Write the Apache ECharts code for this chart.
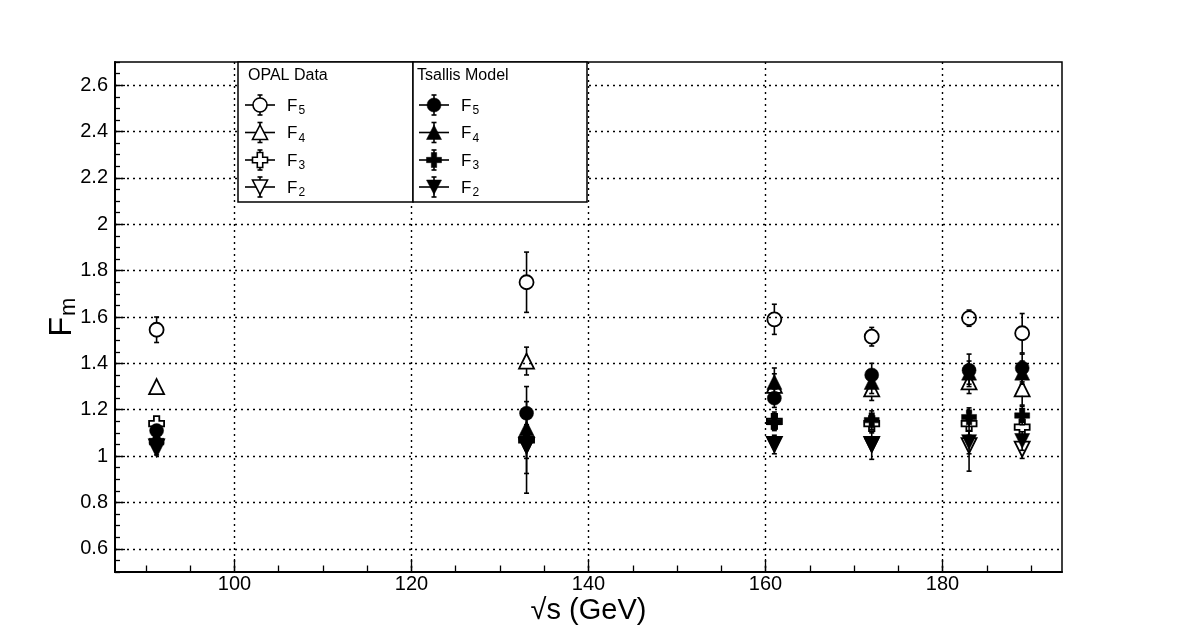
<!DOCTYPE html>
<html><head><meta charset="utf-8">
<script src="https://cdn.jsdelivr.net/npm/echarts@6/dist/echarts.min.js"></script>
<style>html,body{margin:0;padding:0;background:#fff}#c{width:1182px;height:636px}</style>
</head><body><div id="c"></div>
<script>
// ---- data ----
const energies = [91.2, 133, 161, 172, 183, 189];

const opalF5 = [1.545, 1.75, 1.59, 1.515, 1.595, 1.53];
const opalF5Err = [0.055, 0.13, 0.065, 0.04, 0.035, 0.085];
const opalF4 = [1.30, 1.41, 1.305, 1.29, 1.32, 1.29];
const opalF4Err = [0.015, 0.06, 0.05, 0.05, 0.05, 0.07];
const opalF3 = [1.14, 1.07, 1.15, 1.14, 1.14, 1.125];
const opalF3Err = [0.03, 0.23, 0.04, 0.04, 0.05, 0.06];
const opalF2 = [1.04, 1.045, 1.05, 1.05, 1.045, 1.03];
const opalF2Err = [0.01, 0.12, 0.03, 0.03, 0.11, 0.04];

const tsF5 = [1.11, 1.185, 1.25, 1.35, 1.37, 1.38];
const tsF5Err = [0.02, 0.05, 0.04, 0.05, 0.07, 0.06];
const tsF4 = [1.08, 1.12, 1.32, 1.32, 1.36, 1.36];
const tsF4Err = [0.02, 0.05, 0.06, 0.05, 0.05, 0.05];
const tsF3 = [1.065, 1.075, 1.147, 1.155, 1.168, 1.175];
const tsF3Err = [0.02, 0.05, 0.03, 0.04, 0.04, 0.04];
const tsF2 = [1.025, 1.04, 1.05, 1.046, 1.06, 1.065];
const tsF2Err = [0.02, 0.05, 0.04, 0.06, 0.05, 0.04];

const xTicks = [100, 120, 140, 160, 180];
const xMinorTicks = [90, 95, 100, 105, 110, 115, 120, 125, 130, 135, 140, 145, 150, 155, 160, 165, 170, 175, 180, 185, 190];
const yTicks = [0.6, 0.8, 1, 1.2, 1.4, 1.6, 1.8, 2, 2.2, 2.4, 2.6];
const yMinorTicks = [0.5, 0.55, 0.6, 0.65, 0.7, 0.75, 0.8, 0.85, 0.9, 0.95, 1, 1.05, 1.1, 1.15, 1.2, 1.25, 1.3, 1.35, 1.4, 1.45, 1.5, 1.55, 1.6, 1.65, 1.7, 1.75, 1.8, 1.85, 1.9, 1.95, 2, 2.05, 2.1, 2.15, 2.2, 2.25, 2.3, 2.35, 2.4, 2.45, 2.5, 2.55, 2.6, 2.65, 2.7];

const legendHeaders = ['OPAL Data', 'Tsallis Model'];
const legendLabels = ['5', '4', '3', '2'];

// ---- styling ----
const FONT = 'Liberation Sans, Arial, Helvetica, sans-serif';
const SYM = {
  circle: 'circle',
  tri: 'triangle',
  cross: 'path://M3.2,0 L6.8,0 L6.8,3.2 L10,3.2 L10,6.8 L6.8,6.8 L6.8,10 L3.2,10 L3.2,6.8 L0,6.8 L0,3.2 L3.2,3.2 Z',
  dtri: 'path://M0,0 L10,0 L5,10 Z'
};
const SIZE = {circle: 14, tri: 15, cross: 15, dtri: 15};

function errSeries(vals, errs, gap, z) {
  return {
    type: 'custom', silent: true, z: z, animation: false,
    data: energies.map((x, i) => [x, vals[i], errs[i]]),
    renderItem: function (params, api) {
      const x = api.value(0), y = api.value(1), e = api.value(2);
      const c = api.coord([x, y]);
      const t = api.coord([x, y + e]);
      const b = api.coord([x, y - e]);
      const st = {stroke: '#000', lineWidth: 1.6};
      const ch = [];
      if (c[1] - gap > t[1] + 0.5) {
        ch.push({type: 'line', shape: {x1: c[0], y1: t[1], x2: c[0], y2: c[1] - gap}, style: st});
        ch.push({type: 'line', shape: {x1: c[0] - 2.5, y1: t[1], x2: c[0] + 2.5, y2: t[1]}, style: st});
      }
      if (b[1] > c[1] + gap + 0.5) {
        ch.push({type: 'line', shape: {x1: c[0], y1: c[1] + gap, x2: c[0], y2: b[1]}, style: st});
        ch.push({type: 'line', shape: {x1: c[0] - 2.5, y1: b[1], x2: c[0] + 2.5, y2: b[1]}, style: st});
      }
      return {type: 'group', children: ch};
    }
  };
}
function markSeries(name, vals, shape, filled, z) {
  return {
    type: 'scatter', name: name, z: z, animation: false, silent: true,
    data: energies.map((x, i) => [x, vals[i]]),
    symbol: SYM[shape], symbolSize: SIZE[shape],
    itemStyle: {color: filled ? '#000' : 'rgba(0,0,0,0)', borderColor: '#000', borderWidth: filled ? 0.5 : 1.8, opacity: 1}
  };
}

// ---- legend (graphic) ----
function legendMarker(shape, cx, cy, filled) {
  const st = {fill: filled ? '#000' : '#fff', stroke: '#000', lineWidth: filled ? 0.5 : 1.6};
  if (shape === 'circle') return {type: 'circle', shape: {cx: cx, cy: cy, r: 7}, style: st, z: 103};
  if (shape === 'tri') return {type: 'polygon', shape: {points: [[cx - 7.5, cy + 7], [cx + 7.5, cy + 7], [cx, cy - 7.5]]}, style: st, z: 103};
  if (shape === 'dtri') return {type: 'polygon', shape: {points: [[cx - 7.5, cy - 7], [cx + 7.5, cy - 7], [cx, cy + 7.5]]}, style: st, z: 103};
  const a = 7.5, w = 2.7;
  return {type: 'polygon', shape: {points: [
    [cx - w, cy - a], [cx + w, cy - a], [cx + w, cy - w], [cx + a, cy - w], [cx + a, cy + w], [cx + w, cy + w],
    [cx + w, cy + a], [cx - w, cy + a], [cx - w, cy + w], [cx - a, cy + w], [cx - a, cy - w], [cx - w, cy - w]]}, style: st, z: 103};
}
const shapesOrder = ['circle', 'tri', 'cross', 'dtri'];
function buildLegend() {
  const els = [];
  const boxes = [{x: 238, w: 175}, {x: 413, w: 174}];
  const rowsY = [105, 132.5, 160, 187];
  boxes.forEach((bx, k) => {
    els.push({type: 'rect', shape: {x: bx.x, y: 62, width: bx.w, height: 140}, style: {fill: '#fff', stroke: '#000', lineWidth: 1.5}, z: 100});
    els.push({type: 'text', x: bx.x + (k === 0 ? 10 : 4), y: 76, z: 104,
      style: {text: legendHeaders[k], fill: '#000', font: '16px ' + FONT, verticalAlign: 'middle', align: 'left'}});
    const mx = bx.x + (k === 0 ? 22 : 21);
    legendLabels.forEach((lab, r) => {
      const cy = rowsY[r];
      const lst = {stroke: '#000', lineWidth: 1.6};
      els.push({type: 'line', shape: {x1: mx - 15, y1: cy, x2: mx + 15, y2: cy}, style: lst, z: 102});
      els.push({type: 'line', shape: {x1: mx, y1: cy - 10, x2: mx, y2: cy + 10}, style: lst, z: 102});
      els.push({type: 'line', shape: {x1: mx - 2.5, y1: cy - 10, x2: mx + 2.5, y2: cy - 10}, style: lst, z: 102});
      els.push({type: 'line', shape: {x1: mx - 2.5, y1: cy + 10, x2: mx + 2.5, y2: cy + 10}, style: lst, z: 102});
      els.push(legendMarker(shapesOrder[r], mx, cy, k === 1));
      els.push({type: 'text', x: mx + 27, y: cy + 1, z: 104,
        style: {text: '{f|F}{s|' + lab + '}', verticalAlign: 'middle', align: 'left',
          rich: {f: {fontSize: 17, fontFamily: FONT, fill: '#000'}, s: {fontSize: 12, fontFamily: FONT, fill: '#000', padding: [10, 0, 0, 1]}}}});
    });
  });
  return els;
}

const axisLabelStyle = {color: '#000', fontSize: 20, fontFamily: FONT};
const gridLine = {show: true, lineStyle: {color: '#000', width: 1.4, type: [2, 4]}};

const option = {
  backgroundColor: '#fff',
  animation: false,
  grid: {left: 115, right: 120, top: 62, bottom: 64, show: true, borderColor: '#000', borderWidth: 1.5, backgroundColor: 'transparent', containLabel: false, outerBoundsMode: 'none'},
  xAxis: [{
    type: 'value', min: 86.5, max: 193.5, position: 'bottom',
    axisLine: {show: true, onZero: false, lineStyle: {color: '#000', width: 2}},
    axisTick: {show: true, inside: true, length: 13, customValues: xTicks, lineStyle: {color: '#000', width: 1.3}},
    axisLabel: {show: true, customValues: xTicks, margin: 2, ...axisLabelStyle},
    splitLine: gridLine,
    name: '√s (GeV)', nameLocation: 'middle', nameGap: 24, nameMoveOverlap: false,
    nameTextStyle: {color: '#000', fontSize: 29, fontFamily: FONT}
  }, {
    type: 'value', min: 86.5, max: 193.5, position: 'bottom',
    axisLine: {show: false},
    axisTick: {show: true, inside: true, length: 6.5, customValues: xMinorTicks, lineStyle: {color: '#000', width: 1.3}},
    axisLabel: {show: false}, splitLine: {show: false}
  }],
  yAxis: [{
    type: 'value', min: 0.5, max: 2.7, position: 'left',
    axisLine: {show: true, onZero: false, lineStyle: {color: '#000', width: 2}},
    axisTick: {show: true, inside: true, length: 10, customValues: yTicks, lineStyle: {color: '#000', width: 1.3}},
    axisLabel: {show: true, customValues: yTicks, margin: 7, ...axisLabelStyle},
    splitLine: gridLine,
    name: '{f|F}{s|m}', nameLocation: 'middle', nameGap: 35, nameMoveOverlap: false,
    nameTextStyle: {rich: {f: {fontSize: 32, fontFamily: FONT, color: '#000'}, s: {fontSize: 22, fontFamily: FONT, color: '#000', padding: [13, 0, 0, 1]}}}
  }, {
    type: 'value', min: 0.5, max: 2.7, position: 'left', offset: 0,
    axisLine: {show: false},
    axisTick: {show: true, inside: true, length: 5, customValues: yMinorTicks, lineStyle: {color: '#000', width: 1.3}},
    axisLabel: {show: false}, splitLine: {show: false}
  }],
  graphic: {elements: buildLegend()},
  series: [
    errSeries(opalF5, opalF5Err, 7, 3), errSeries(opalF4, opalF4Err, 7, 3),
    errSeries(opalF3, opalF3Err, 7, 3), errSeries(opalF2, opalF2Err, 7, 3),
    markSeries('OPAL F5', opalF5, 'circle', false, 4), markSeries('OPAL F4', opalF4, 'tri', false, 4),
    markSeries('OPAL F3', opalF3, 'cross', false, 4), markSeries('OPAL F2', opalF2, 'dtri', false, 4),
    errSeries(tsF5, tsF5Err, 0, 5), errSeries(tsF4, tsF4Err, 0, 5),
    errSeries(tsF3, tsF3Err, 0, 5), errSeries(tsF2, tsF2Err, 0, 5),
    markSeries('Tsallis F5', tsF5, 'circle', true, 6), markSeries('Tsallis F4', tsF4, 'tri', true, 6),
    markSeries('Tsallis F3', tsF3, 'cross', true, 6), markSeries('Tsallis F2', tsF2, 'dtri', true, 6)
  ]
};
const chart = echarts.init(document.getElementById('c'), null, {renderer: 'canvas'});
chart.setOption(option);
</script></body></html>
